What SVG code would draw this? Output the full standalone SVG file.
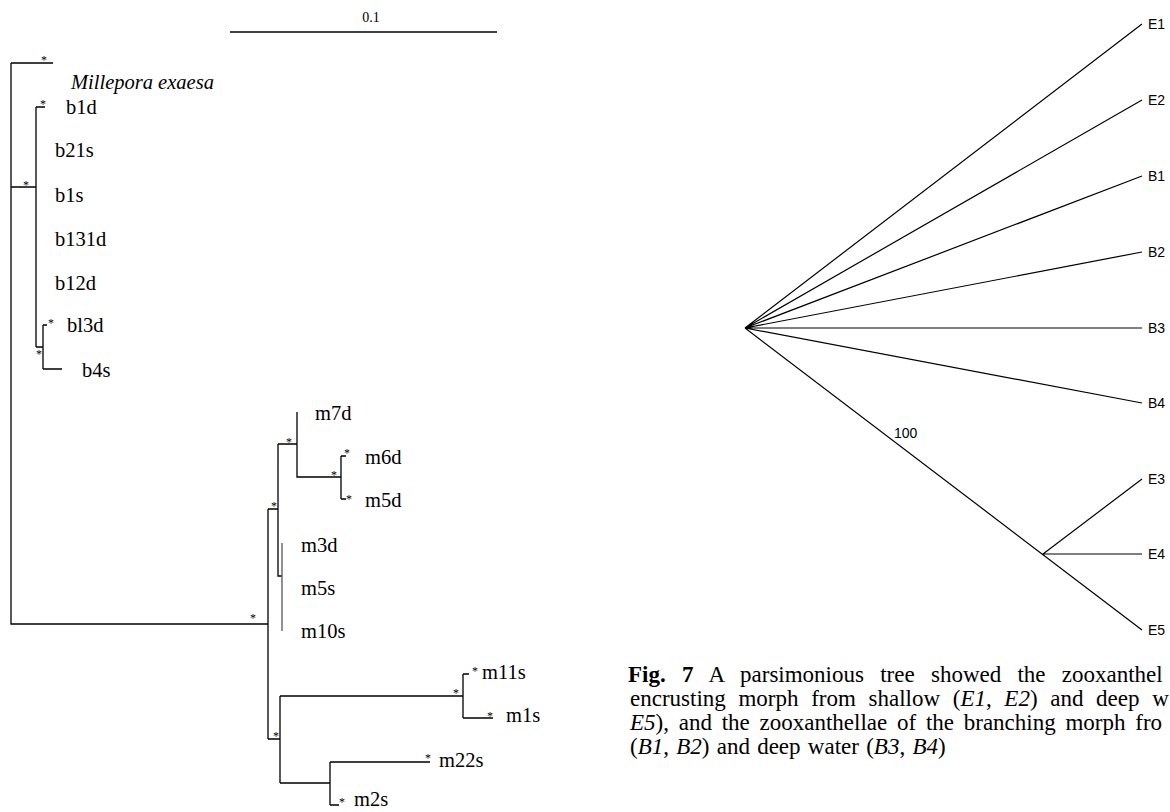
<svg xmlns="http://www.w3.org/2000/svg" width="1170" height="812" viewBox="0 0 1170 812">
<style>
.br{fill:none;stroke:#000;stroke-width:1.3}
.gr{fill:none;stroke:#555;stroke-width:1.3}
.lb{font-family:"Liberation Serif",serif;font-size:20.5px;fill:#000}
.it{font-style:italic}
.st{font-family:"Liberation Serif",serif;font-size:12px;fill:#000;text-anchor:middle}
.rb{fill:none;stroke:#000;stroke-width:1.2}
.rl{font-family:"Liberation Sans",Arial,sans-serif;font-size:14px;fill:#000}
.cap{font-family:"Liberation Serif",serif;font-size:23px;fill:#000}
</style>
<rect width="1170" height="812" fill="#fff"/>
<g id="scalebar">
<line x1="230" y1="32" x2="497" y2="32" class="br"/>
<text x="371" y="22" font-family="Liberation Serif,serif" font-size="14" text-anchor="middle">0.1</text>
</g>
<g id="left-connectors">
<path class="br" d="M11,63 H53 M11,63 V624 H268"/>
<path class="br" d="M11,187 H36 M36,107 V347 M36,107 H45 M36,347 H43 M43,325 V369 M43,325 H47 M43,369 H62"/>
<path class="br" d="M268,509 V739 M268,509 H278 M278,444 V576 H282 M278,444 H297 M297,412 V477 H341 M341,456 V499 M341,456 H346 M341,499 H346"/>
<path class="gr" d="M282,543 V631"/>
<path class="br" d="M268,739 H280 M280,696 V783 M280,696 H463 M463,674 V718 M463,674 H469 M463,718 H493 M280,783 H330 M330,762 V805 M330,762 H430 M330,805 H339"/>
</g>
<g id="left-supports">
<text class="st" x="44" y="64">*</text>
<text class="st" x="43" y="108">*</text>
<text class="st" x="26" y="189">*</text>
<text class="st" x="51" y="327">*</text>
<text class="st" x="39" y="358">*</text>
<text class="st" x="253" y="622">*</text>
<text class="st" x="274" y="510">*</text>
<text class="st" x="289" y="446">*</text>
<text class="st" x="334" y="479">*</text>
<text class="st" x="347" y="457">*</text>
<text class="st" x="349" y="503">*</text>
<text class="st" x="276" y="740">*</text>
<text class="st" x="456" y="697">*</text>
<text class="st" x="475" y="675">*</text>
<text class="st" x="490" y="720">*</text>
<text class="st" x="428" y="762">*</text>
<text class="st" x="342" y="806">*</text>
</g>
<g id="left-labels">
<text class="lb it" x="71" y="89">Millepora exaesa</text>
<text class="lb" x="66" y="114">b1d</text>
<text class="lb" x="55" y="157">b21s</text>
<text class="lb" x="55" y="202">b1s</text>
<text class="lb" x="55" y="246">b131d</text>
<text class="lb" x="55" y="290">b12d</text>
<text class="lb" x="67" y="332">bl3d</text>
<text class="lb" x="82" y="377">b4s</text>
<text class="lb" x="315" y="420">m7d</text>
<text class="lb" x="365" y="464">m6d</text>
<text class="lb" x="365" y="507">m5d</text>
<text class="lb" x="301" y="552">m3d</text>
<text class="lb" x="301" y="595">m5s</text>
<text class="lb" x="301" y="638">m10s</text>
<text class="lb" x="482" y="679">m11s</text>
<text class="lb" x="506" y="722">m1s</text>
<text class="lb" x="439" y="767">m22s</text>
<text class="lb" x="354" y="806">m2s</text>
</g>
<g id="right-connectors">
<path class="rb" d="M745,328 L1142,24 M745,328 L1142,100 M745,328 L1142,176 M745,328 L1142,252 M745,328 L1142,328 M745,328 L1142,403 M745,328 L1142,630 M1043,554 L1142,479 M1043,554 H1142"/>
</g>
<g id="right-labels">
<text class="rl" x="1148" y="29">E1</text>
<text class="rl" x="1148" y="105">E2</text>
<text class="rl" x="1148" y="181">B1</text>
<text class="rl" x="1148" y="257">B2</text>
<text class="rl" x="1148" y="333">B3</text>
<text class="rl" x="1148" y="408">B4</text>
<text class="rl" x="1148" y="484">E3</text>
<text class="rl" x="1148" y="559">E4</text>
<text class="rl" x="1148" y="635">E5</text>
<text class="rl" x="894" y="438">100</text>
</g>
<g id="caption">
<text class="cap" x="628" y="682" word-spacing="10.5"><tspan font-weight="bold">Fig. 7</tspan> A parsimonious tree showed the zooxanthel</text>
<text class="cap" x="630" y="706" word-spacing="6.9">encrusting morph from shallow (<tspan font-style="italic">E1</tspan>, <tspan font-style="italic">E2</tspan>) and deep w</text>
<text class="cap" x="630" y="730" word-spacing="4"><tspan font-style="italic">E5</tspan>), and the zooxanthellae of the branching morph fro</text>
<text class="cap" x="630" y="754" word-spacing="1.5">(<tspan font-style="italic">B1</tspan>, <tspan font-style="italic">B2</tspan>) and deep water (<tspan font-style="italic">B3</tspan>, <tspan font-style="italic">B4</tspan>)</text>
</g>
</svg>
